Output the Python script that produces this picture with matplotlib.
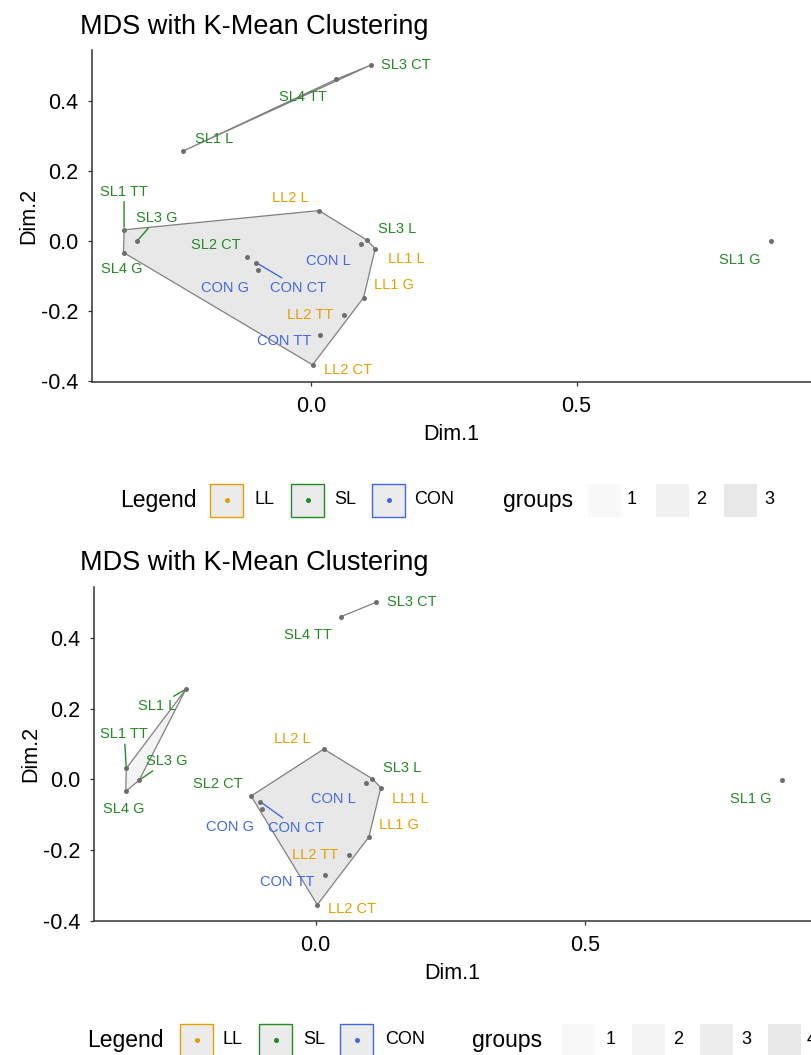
import numpy as np
import matplotlib
matplotlib.use("Agg")
import matplotlib.pyplot as plt
from matplotlib.patches import Rectangle, Polygon

plt.rcParams['font.family'] = ['Liberation Sans', 'DejaVu Sans']

# MDS coordinates
labels = ["SL3 CT", "SL4 TT", "SL1 L", "SL1 TT", "SL3 G", "SL4 G", "LL2 L", "SL3 L", "CON L",
          "LL1 L", "SL2 CT", "CON CT", "CON G", "LL1 G", "LL2 TT", "CON TT", "LL2 CT", "SL1 G"]
dim1 = [0.113, 0.047, -0.241, -0.352, -0.328, -0.353, 0.015, 0.105, 0.094,
        0.121, -0.120, -0.103, -0.100, 0.099, 0.062, 0.017, 0.003, 0.866]
dim2 = [0.502, 0.461, 0.256, 0.031, -0.002, -0.034, 0.086, 0.002, -0.010,
        -0.023, -0.047, -0.063, -0.084, -0.163, -0.213, -0.271, -0.355, -0.002]

# k-means assignments (k=3 and k=4)
groups_k3 = [1, 1, 1, 3, 3, 3, 3, 3, 3, 3, 3, 3, 3, 3, 3, 3, 3, 2]
groups_k4 = [1, 1, 2, 2, 2, 2, 4, 4, 4, 4, 4, 4, 4, 4, 4, 4, 4, 3]

legend_names = ["LL", "SL", "CON"]
legend_colors = {"LL": "#E69F00", "SL": "#228B22", "CON": "#4169E1"}
group_fill_k3 = {1: "#F8F8F8", 2: "#F1F1F1", 3: "#E8E8E8"}
group_fill_k4 = {1: "#F8F8F8", 2: "#F3F3F3", 3: "#EDEDED", 4: "#E8E8E8"}

# label offsets in pixels (repel-like placement)
offsets_k3 = [(35, 0), (-33, -18), (31, 12), (0, 38), (20, 23), (-2, -16), (-29, 13), (30, 11), (-33, -17),
              (31, -10), (-31, 12), (42, -25), (-33, -18), (30, 13), (-34, 0), (-36, -6), (35, -5), (-31, -19)]
offsets_k4 = [(35, 0), (-33, -18), (-29, -17), (-2, 34), (28, 19), (-2, -18), (-31, 10), (30, 11), (-33, -16),
              (30, -11), (-33, 12), (36, -26), (-32, -18), (30, 12), (-34, 0), (-38, -7), (35, -4), (-31, -19)]
segments_k3 = {"SL1 TT", "SL3 G", "CON CT"}
segments_k4 = {"SL1 TT", "SL3 G", "CON CT", "SL1 L"}

W, H = 811, 1055


def prefix(name):
    for p in legend_names:
        if name.startswith(p):
            return p


def convex_hull(pts):
    pts = sorted(set(pts))
    if len(pts) <= 2:
        return pts

    def cross(o, a, b):
        return (a[0] - o[0]) * (b[1] - o[1]) - (a[1] - o[1]) * (b[0] - o[0])

    lower, upper = [], []
    for p in pts:
        while len(lower) >= 2 and cross(lower[-2], lower[-1], p) <= 0:
            lower.pop()
        lower.append(p)
    for p in reversed(pts):
        while len(upper) >= 2 and cross(upper[-2], upper[-1], p) <= 0:
            upper.pop()
        upper.append(p)
    return lower[:-1] + upper[:-1]


def fig_box(px_left, px_top, px_right, px_bottom):
    return [px_left / W, 1 - px_bottom / H, (px_right - px_left) / W, (px_bottom - px_top) / H]


def draw_panel(fig, rect, groups, fills, offsets, segments, xlim, ylim):
    ax = fig.add_axes(rect)
    for g in sorted(set(groups)):
        pts = [(dim1[i], dim2[i]) for i in range(len(labels)) if groups[i] == g]
        hull = convex_hull(pts)
        if len(hull) >= 3:
            ax.add_patch(Polygon(hull, closed=True, facecolor=fills[g], edgecolor="#808080", lw=0.9, zorder=1))
        elif len(hull) == 2:
            ax.plot([hull[0][0], hull[1][0]], [hull[0][1], hull[1][1]], color="#808080", lw=0.9, zorder=1)
    ax.scatter(dim1, dim2, s=13, color="#6E6E6E", zorder=3, linewidths=0)
    for i, name in enumerate(labels):
        col = legend_colors[prefix(name)]
        arrow = None
        if name in segments:
            arrow = dict(arrowstyle="-", color=col, lw=1.0, shrinkA=0, shrinkB=2)
        ax.annotate(name, (dim1[i], dim2[i]), xytext=offsets[i], textcoords="offset pixels",
                    ha="center", va="center", fontsize=10.5, color=col, arrowprops=arrow, zorder=4)
    ax.set_xlim(*xlim)
    ax.set_ylim(*ylim)
    ax.set_xticks([0.0, 0.5])
    ax.set_xticklabels(["0.0", "0.5"])
    ax.set_yticks([-0.4, -0.2, 0.0, 0.2, 0.4])
    ax.set_yticklabels(["-0.4", "-0.2", "0.0", "0.2", "0.4"])
    for s in ["top", "right"]:
        ax.spines[s].set_visible(False)
    for s in ["left", "bottom"]:
        ax.spines[s].set_color("#333333")
        ax.spines[s].set_linewidth(1.1)
    ax.tick_params(length=3, width=0.9, color="#333333", labelsize=15.5, labelcolor="black", pad=7)
    ax.set_xlabel("Dim.1", fontsize=15.5, labelpad=5)
    ax.set_ylabel("Dim.2", fontsize=15.5, labelpad=1)
    return ax


def draw_legend(fig, yc, x_title, x_keys, x_keytext, x_groups, x_gboxes, x_gtext, fills):
    box = 33
    fig.text(x_title / W, 1 - yc / H, "Legend", fontsize=16.5, ha="left", va="center")
    for name, xk, xt in zip(legend_names, x_keys, x_keytext):
        col = legend_colors[name]
        fig.patches.append(Rectangle((xk / W, 1 - (yc + box / 2) / H), box / W, box / H,
                                     transform=fig.transFigure, facecolor="#EBEBEB", edgecolor=col, lw=1.0))
        fig.add_artist(plt.Line2D([(xk + box / 2) / W], [1 - yc / H], marker="o", markersize=2.6,
                                  color=col, transform=fig.transFigure))
        fig.text(xt / W, 1 - yc / H, name, fontsize=13, ha="left", va="center")
    fig.text(x_groups / W, 1 - yc / H, "groups", fontsize=16.5, ha="left", va="center")
    for g, xb, xt in zip(sorted(fills), x_gboxes, x_gtext):
        fig.patches.append(Rectangle((xb / W, 1 - (yc + box / 2) / H), box / W, box / H,
                                     transform=fig.transFigure, facecolor=fills[g], edgecolor="none"))
        fig.text(xt / W, 1 - yc / H, str(g), fontsize=13, ha="left", va="center")


fig = plt.figure(figsize=(W / 100, H / 100), dpi=100)
fig.patch.set_facecolor("white")

draw_panel(fig, fig_box(92, 50, 811, 382), groups_k3, group_fill_k3, offsets_k3, segments_k3,
           (-0.4124, 0.9416), (-0.404, 0.545))
fig.text(80 / W, 1 - 27 / H, "MDS with K-Mean Clustering", fontsize=19.5, ha="left", va="center")
draw_legend(fig, 500, 120, [210, 291, 372], [254, 334, 414], 503, [588, 656, 724], [627, 696, 764],
            group_fill_k3)

draw_panel(fig, fig_box(94, 587, 811, 921), groups_k4, group_fill_k4, offsets_k4, segments_k4,
           (-0.412, 0.9206), (-0.401, 0.545))
fig.text(80 / W, 1 - 563 / H, "MDS with K-Mean Clustering", fontsize=19.5, ha="left", va="center")
draw_legend(fig, 1040, 87, [180, 259, 340], [222, 303, 385], 472, [562, 632, 700, 768], [606, 673, 741, 807],
            group_fill_k4)

fig.savefig("out.png", dpi=100)
